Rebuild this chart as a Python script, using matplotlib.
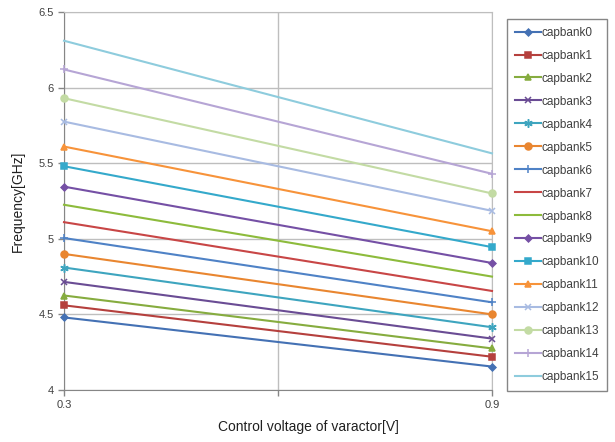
import matplotlib
matplotlib.use('Agg')
import matplotlib.pyplot as plt

plt.rcParams['font.family'] = ['Liberation Sans', 'DejaVu Sans']

voltage = [0.3, 0.9]
names = ['capbank%d' % i for i in range(16)]
freq_03 = [4.48, 4.56, 4.625, 4.715, 4.81, 4.90, 5.005, 5.11,
           5.225, 5.345, 5.48, 5.61, 5.775, 5.93, 6.12, 6.31]
freq_09 = [4.155, 4.22, 4.275, 4.34, 4.415, 4.50, 4.58, 4.655,
           4.75, 4.84, 4.945, 5.05, 5.185, 5.30, 5.43, 5.565]

colors = ['#4471B4', '#B5403D', '#86AC3F', '#6A4C94', '#3EA5BF', '#E98630',
          '#4F82C6', '#C84646', '#8DBB3C', '#7550A5', '#34A9CB', '#F7933A',
          '#A8BBE2', '#C3DBA4', '#B6A5D5', '#8ECCDD']
markers = ['D', 's', '^', 'x', (6, 2, 0), 'o', '+', None,
           None, 'D', 's', '^', 'x', 'o', '+', None]
msizes = [3.5, 5, 5, 5, 6, 5, 6, 0, 0, 3.5, 5, 5, 5, 5, 6, 0]

fig = plt.figure(figsize=(6.15, 4.42), dpi=100)
ax = fig.add_axes([64/615, 1-390/442, 428/615, 378/442])

for i in range(16):
    ax.plot(voltage, [freq_03[i], freq_09[i]], color=colors[i], lw=1.5,
            marker=markers[i], ms=msizes[i], mew=1.1, label=names[i],
            clip_on=False, zorder=3)

ax.set_xlim(0.3, 0.9)
ax.set_ylim(4, 6.5)
ax.set_xticks([0.3, 0.6, 0.9])
ax.set_xticklabels(['0.3', '', '0.9'])
ax.set_yticks([4, 4.5, 5, 5.5, 6, 6.5])
ax.set_yticklabels(['4', '4.5', '5', '5.5', '6', '6.5'])
ax.grid(True, color='#BEBEBE', lw=1.0)
ax.set_axisbelow(True)
for s in ax.spines.values():
    s.set_color('#BEBEBE')
ax.spines['left'].set_color('#868686')
ax.spines['bottom'].set_color('#868686')
ax.tick_params(axis='both', colors='#868686', length=4, width=1,
               labelsize=8, labelcolor='#404040', direction='out')

fig.text(18/615, 1-201/442, 'Frequency[GHz]', rotation=90, ha='center',
         va='center', fontsize=10, color='#202020')
fig.text(308/615, 1-427/442, 'Control voltage of varactor[V]', ha='center',
         va='center', fontsize=10, color='#202020')

leg = fig.legend(loc='upper left', bbox_to_anchor=(507/615, 1-19/442),
                 borderaxespad=0, fontsize=8.5, handlelength=2.2,
                 handletextpad=0.1, labelspacing=0.93, borderpad=0.65,
                 fancybox=False, edgecolor='#868686', framealpha=1)
leg.get_frame().set_linewidth(1.0)
for t in leg.get_texts():
    t.set_color('#404040')

fig.savefig('out.png', dpi=100)
